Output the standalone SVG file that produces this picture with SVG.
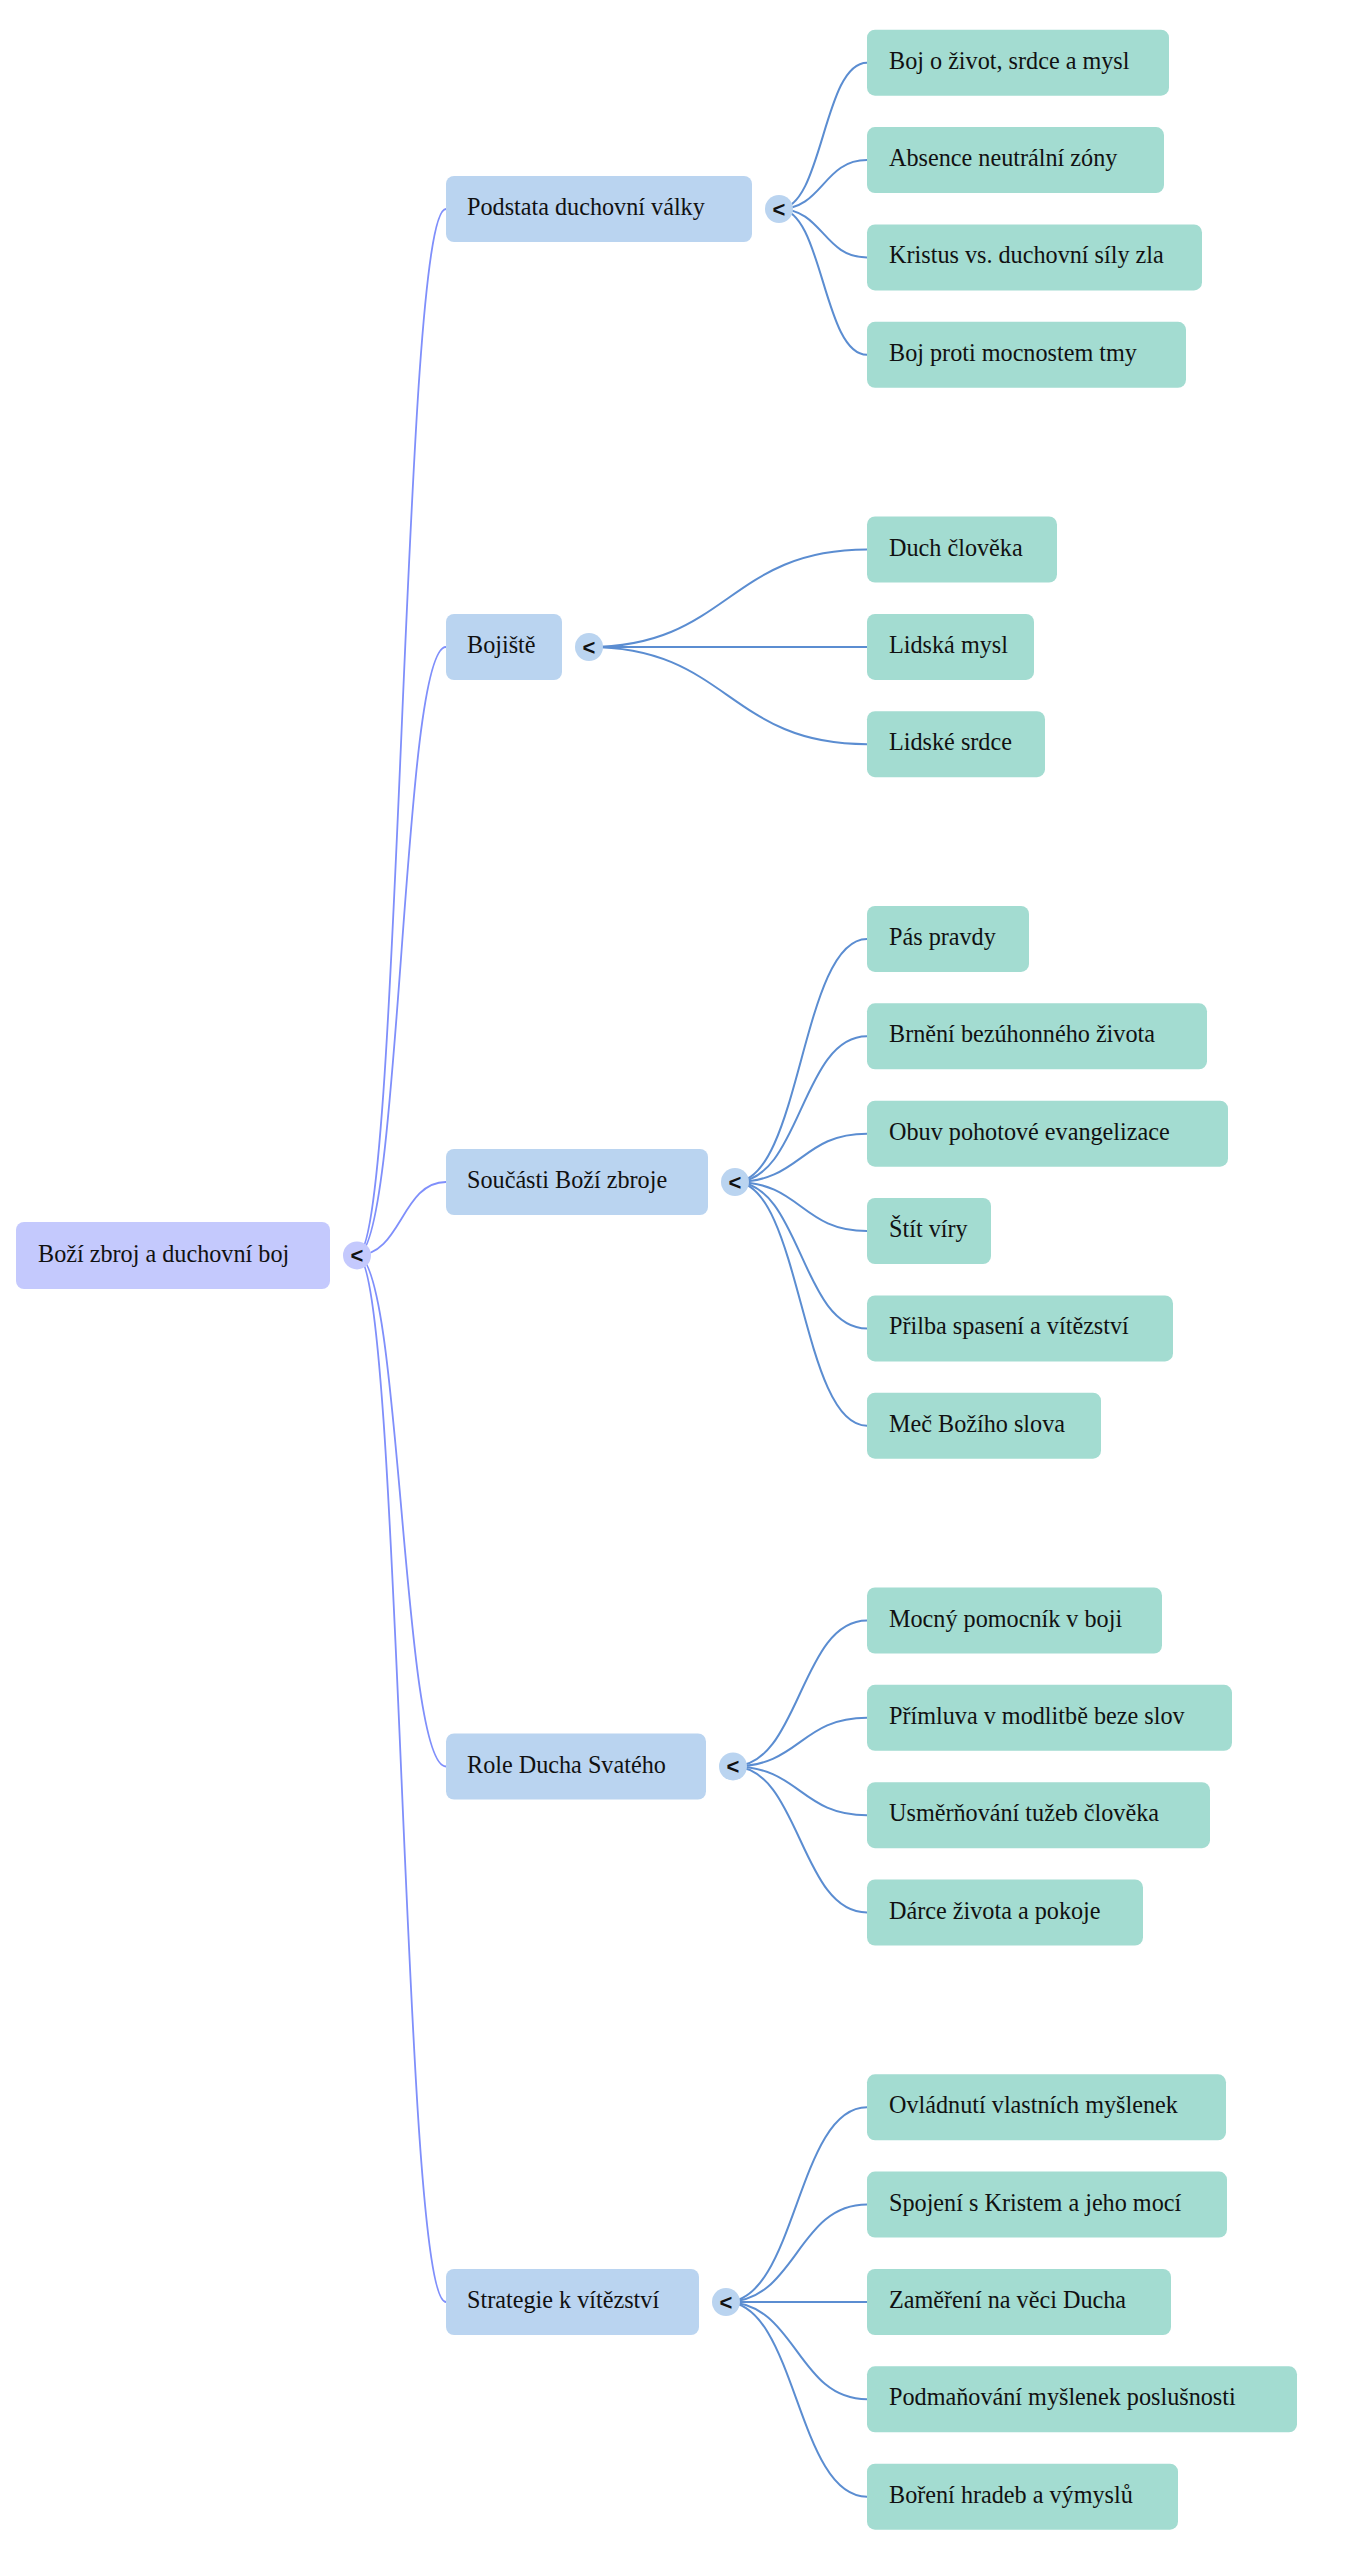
<svg xmlns="http://www.w3.org/2000/svg" width="1354" height="2560" viewBox="0 0 1354 2560">
<style>
.bg{fill:#ffffff}
.root rect{fill:#c4c9fd}
.l1 rect{fill:#bad4f0}
.l2 rect{fill:#a3dcd1}
.t{font-family:"Liberation Serif","Times New Roman",serif;font-size:24.2px;fill:#111111}
.rc{fill:#c4c9fd}
.c1{fill:#bad4f0}
.tog{font-family:"Liberation Sans",Arial,sans-serif;font-size:22px;font-weight:bold;fill:#111111;text-anchor:middle}
.e0{fill:none;stroke:#7f8ffb;stroke-width:1.8}
.e1{fill:none;stroke:#5b8dd1;stroke-width:2}
</style>
<rect class="bg" x="0" y="0" width="1354" height="2560"/>
<g id="connectors">
<path class="e0" d="M357,1255.4 C401.5,1255.4 401.5,209 446,209"/>
<path class="e0" d="M357,1255.4 C401.5,1255.4 401.5,647 446,647"/>
<path class="e0" d="M357,1255.4 C401.5,1255.4 401.5,1182 446,1182"/>
<path class="e0" d="M357,1255.4 C401.5,1255.4 401.5,1766.5 446,1766.5"/>
<path class="e0" d="M357,1255.4 C401.5,1255.4 401.5,2302 446,2302"/>
<path class="e1" d="M779,209 C823,209 823,62.7 867,62.7"/>
<path class="e1" d="M779,209 C823,209 823,160.1 867,160.1"/>
<path class="e1" d="M779,209 C823,209 823,257.4 867,257.4"/>
<path class="e1" d="M779,209 C823,209 823,354.8 867,354.8"/>
<path class="e1" d="M589,647 C728,647 728,549.5 867,549.5"/>
<path class="e1" d="M589,647 C728,647 728,646.9 867,646.9"/>
<path class="e1" d="M589,647 C728,647 728,744.2 867,744.2"/>
<path class="e1" d="M735,1182 C801,1182 801,938.9 867,938.9"/>
<path class="e1" d="M735,1182 C801,1182 801,1036.3 867,1036.3"/>
<path class="e1" d="M735,1182 C801,1182 801,1133.7 867,1133.7"/>
<path class="e1" d="M735,1182 C801,1182 801,1231 867,1231"/>
<path class="e1" d="M735,1182 C801,1182 801,1328.4 867,1328.4"/>
<path class="e1" d="M735,1182 C801,1182 801,1425.7 867,1425.7"/>
<path class="e1" d="M733,1766.5 C800,1766.5 800,1620.5 867,1620.5"/>
<path class="e1" d="M733,1766.5 C800,1766.5 800,1717.8 867,1717.8"/>
<path class="e1" d="M733,1766.5 C800,1766.5 800,1815.2 867,1815.2"/>
<path class="e1" d="M733,1766.5 C800,1766.5 800,1912.5 867,1912.5"/>
<path class="e1" d="M726,2302 C796.5,2302 796.5,2107.3 867,2107.3"/>
<path class="e1" d="M726,2302 C796.5,2302 796.5,2204.6 867,2204.6"/>
<path class="e1" d="M726,2302 C796.5,2302 796.5,2302 867,2302"/>
<path class="e1" d="M726,2302 C796.5,2302 796.5,2399.3 867,2399.3"/>
<path class="e1" d="M726,2302 C796.5,2302 796.5,2496.7 867,2496.7"/>
</g>
<g id="root" class="root">
<rect x="16" y="1222" width="314" height="67" rx="8"/>
<text class="t" x="38" y="1261.5">Boží zbroj a duchovní boj</text>
<circle class="rc" cx="357" cy="1255.4" r="14"/>
<text class="tog" x="357" y="1263">&lt;</text>
</g>
<g id="n1" class="l1">
<rect x="446" y="176" width="306" height="66" rx="8"/>
<text class="t" x="467" y="215">Podstata duchovní války</text>
<circle class="c1" cx="779" cy="209" r="14"/>
<text class="tog" x="779" y="216.5">&lt;</text>
</g>
<g id="n2" class="l1">
<rect x="446" y="614" width="116" height="66" rx="8"/>
<text class="t" x="467" y="653">Bojiště</text>
<circle class="c1" cx="589" cy="647" r="14"/>
<text class="tog" x="589" y="654.5">&lt;</text>
</g>
<g id="n3" class="l1">
<rect x="446" y="1149" width="262" height="66" rx="8"/>
<text class="t" x="467" y="1188">Součásti Boží zbroje</text>
<circle class="c1" cx="735" cy="1182" r="14"/>
<text class="tog" x="735" y="1189.5">&lt;</text>
</g>
<g id="n4" class="l1">
<rect x="446" y="1733.5" width="260" height="66" rx="8"/>
<text class="t" x="467" y="1772.5">Role Ducha Svatého</text>
<circle class="c1" cx="733" cy="1766.5" r="14"/>
<text class="tog" x="733" y="1774">&lt;</text>
</g>
<g id="n5" class="l1">
<rect x="446" y="2269" width="253" height="66" rx="8"/>
<text class="t" x="467" y="2308">Strategie k vítězství</text>
<circle class="c1" cx="726" cy="2302" r="14"/>
<text class="tog" x="726" y="2309.5">&lt;</text>
</g>
<g id="n1a" class="l2"><rect x="867" y="29.7" width="302" height="66" rx="8"/><text class="t" x="889" y="68.7">Boj o život, srdce a mysl</text></g>
<g id="n1b" class="l2"><rect x="867" y="127.1" width="297" height="66" rx="8"/><text class="t" x="889" y="166.1">Absence neutrální zóny</text></g>
<g id="n1c" class="l2"><rect x="867" y="224.4" width="335" height="66" rx="8"/><text class="t" x="889" y="263.4">Kristus vs. duchovní síly zla</text></g>
<g id="n1d" class="l2"><rect x="867" y="321.8" width="319" height="66" rx="8"/><text class="t" x="889" y="360.8">Boj proti mocnostem tmy</text></g>
<g id="n2a" class="l2"><rect x="867" y="516.5" width="190" height="66" rx="8"/><text class="t" x="889" y="555.5">Duch člověka</text></g>
<g id="n2b" class="l2"><rect x="867" y="613.9" width="167" height="66" rx="8"/><text class="t" x="889" y="652.9">Lidská mysl</text></g>
<g id="n2c" class="l2"><rect x="867" y="711.2" width="178" height="66" rx="8"/><text class="t" x="889" y="750.2">Lidské srdce</text></g>
<g id="n3a" class="l2"><rect x="867" y="905.9" width="162" height="66" rx="8"/><text class="t" x="889" y="944.9">Pás pravdy</text></g>
<g id="n3b" class="l2"><rect x="867" y="1003.3" width="340" height="66" rx="8"/><text class="t" x="889" y="1042.3">Brnění bezúhonného života</text></g>
<g id="n3c" class="l2"><rect x="867" y="1100.7" width="361" height="66" rx="8"/><text class="t" x="889" y="1139.7">Obuv pohotové evangelizace</text></g>
<g id="n3d" class="l2"><rect x="867" y="1198" width="124" height="66" rx="8"/><text class="t" x="889" y="1237">Štít víry</text></g>
<g id="n3e" class="l2"><rect x="867" y="1295.4" width="306" height="66" rx="8"/><text class="t" x="889" y="1334.4">Přilba spasení a vítězství</text></g>
<g id="n3f" class="l2"><rect x="867" y="1392.7" width="234" height="66" rx="8"/><text class="t" x="889" y="1431.7">Meč Božího slova</text></g>
<g id="n4a" class="l2"><rect x="867" y="1587.5" width="295" height="66" rx="8"/><text class="t" x="889" y="1626.5">Mocný pomocník v boji</text></g>
<g id="n4b" class="l2"><rect x="867" y="1684.8" width="365" height="66" rx="8"/><text class="t" x="889" y="1723.8">Přímluva v modlitbě beze slov</text></g>
<g id="n4c" class="l2"><rect x="867" y="1782.2" width="343" height="66" rx="8"/><text class="t" x="889" y="1821.2">Usměrňování tužeb člověka</text></g>
<g id="n4d" class="l2"><rect x="867" y="1879.5" width="276" height="66" rx="8"/><text class="t" x="889" y="1918.5">Dárce života a pokoje</text></g>
<g id="n5a" class="l2"><rect x="867" y="2074.3" width="359" height="66" rx="8"/><text class="t" x="889" y="2113.3">Ovládnutí vlastních myšlenek</text></g>
<g id="n5b" class="l2"><rect x="867" y="2171.6" width="360" height="66" rx="8"/><text class="t" x="889" y="2210.6">Spojení s Kristem a jeho mocí</text></g>
<g id="n5c" class="l2"><rect x="867" y="2269" width="304" height="66" rx="8"/><text class="t" x="889" y="2308">Zaměření na věci Ducha</text></g>
<g id="n5d" class="l2"><rect x="867" y="2366.3" width="430" height="66" rx="8"/><text class="t" x="889" y="2405.3">Podmaňování myšlenek poslušnosti</text></g>
<g id="n5e" class="l2"><rect x="867" y="2463.7" width="311" height="66" rx="8"/><text class="t" x="889" y="2502.7">Boření hradeb a výmyslů</text></g>
</svg>
